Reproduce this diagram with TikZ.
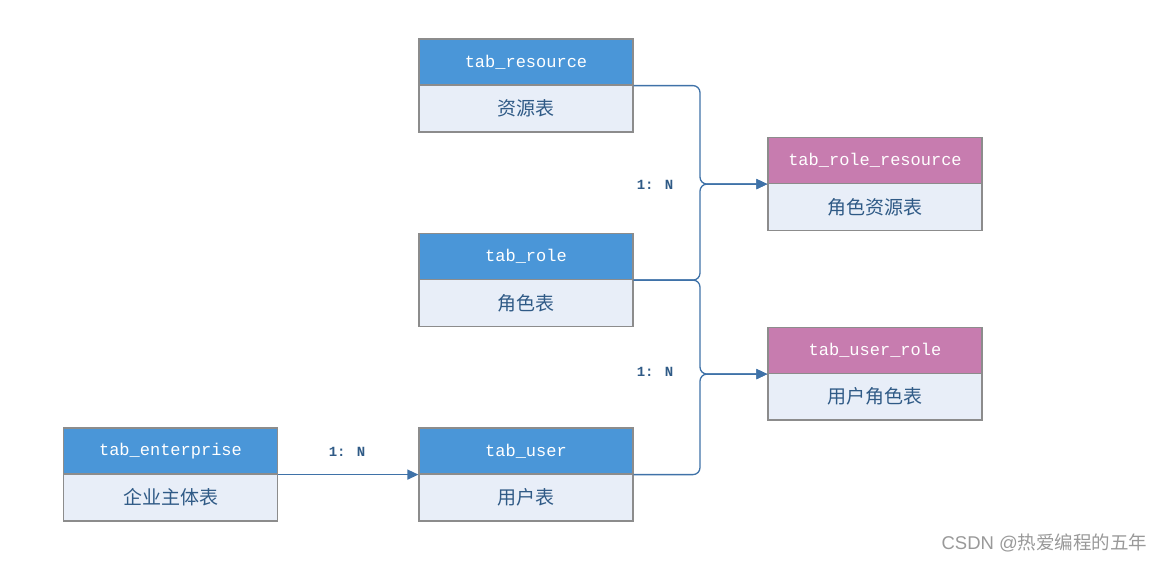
\documentclass[tikz,border=0pt]{standalone}
\usepackage{fontspec}
\setmainfont{Liberation Sans}
\newfontfamily\monof{Liberation Mono}
\newfontfamily\cjk{Noto Sans CJK SC}
\usetikzlibrary{arrows.meta}
\definecolor{hblue}{HTML}{4A96D8}
\definecolor{hpink}{HTML}{C77CAF}
\definecolor{bodyc}{HTML}{E8EEF8}
\definecolor{bordc}{HTML}{8C8C8C}
\definecolor{linec}{HTML}{3F72A8}
\definecolor{txtc}{HTML}{2F5A86}
\begin{document}
\begin{tikzpicture}[x=1pt,y=-1pt,
  hdr/.style={draw=bordc, line width=1.2pt, fill=hblue, minimum width=214pt, minimum height=46pt, inner sep=0pt, text=white, font=\monof\fontsize{17}{20}\selectfont},
  hdrp/.style={hdr, fill=hpink},
  bdy/.style={draw=bordc, line width=1.2pt, fill=bodyc, minimum width=214pt, minimum height=47pt, inner sep=0pt, text=txtc, font=\cjk\fontsize{19}{22}\selectfont},
  conn/.style={draw=linec, line width=1.3pt, rounded corners=7pt, -{Triangle[length=11pt,width=10pt]}},
  lbl/.style={text=txtc, font=\monof\bfseries\fontsize{14}{16}\selectfont}
]
\useasboundingbox (0,0) rectangle (1167,562);
% tab_resource
\node[bdy] (resB) at (526,108.5) {资源表};
\node[hdr] (resH) at (526,62) {tab\_resource};
% tab_role_resource
\node[bdy] (rrB) at (875,207) {角色资源表};
\node[hdrp] (rrH) at (875,160.5) {tab\_role\_resource};
% tab_role
\node[bdy] (roleB) at (526,303) {角色表};
\node[hdr] (roleH) at (526,256.5) {tab\_role};
% tab_user_role
\node[bdy] (urB) at (875,396.5) {用户角色表};
\node[hdrp] (urH) at (875,350.5) {tab\_user\_role};
% tab_enterprise
\node[bdy] (entB) at (170.5,497.5) {企业主体表};
\node[hdr] (entH) at (170.5,451) {tab\_enterprise};
% tab_user
\node[bdy] (userB) at (526,497.5) {用户表};
\node[hdr] (userH) at (526,451) {tab\_user};
% connectors
\coordinate (j1) at (700,0 |- rrH.south west);
\coordinate (j2) at (700,0 |- urH.south west);
\draw[conn] (resH.south east) -| (j1) -- (rrH.south west);
\draw[conn] (roleH.south east) -| (j1) -- (rrH.south west);
\draw[conn] (roleH.south east) -| (j2) -- (urH.south west);
\draw[conn] (userH.south east) -| (j2) -- (urH.south west);
\draw[conn] (entH.south east) -- (userH.south west);
% labels
\node[lbl] (l1) at (655,185) {1: N};
\node[lbl] (l2) at (655,372) {1: N};
\node[lbl] (l3) at (347,452) {1: N};
% watermark
\node[text=gray!80, font=\fontsize{18.5}{22}\selectfont, anchor=east] (wm) at (1151,543) {CSDN @{\cjk 热爱编程的五年}};
\end{tikzpicture}
\end{document}
